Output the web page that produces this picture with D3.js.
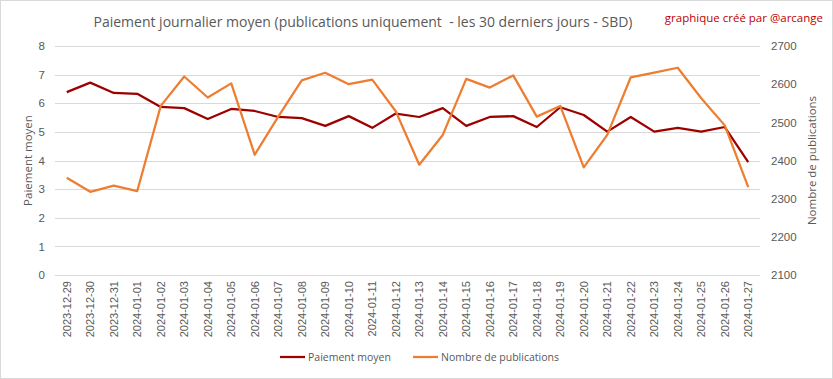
<!DOCTYPE html>
<html>
<head>
<meta charset="utf-8">
<script src="https://cdn.jsdelivr.net/npm/d3@7"></script>
<style>
  body { margin: 0; background: #fff; }
  svg { display: block; font-family: "Open Sans", sans-serif; }
</style>
</head>
<body>
<div id="canvas"></div>
<script>
const dates = [
  "2023-12-29", "2023-12-30", "2023-12-31", "2024-01-01", "2024-01-02", "2024-01-03",
  "2024-01-04", "2024-01-05", "2024-01-06", "2024-01-07", "2024-01-08", "2024-01-09",
  "2024-01-10", "2024-01-11", "2024-01-12", "2024-01-13", "2024-01-14", "2024-01-15",
  "2024-01-16", "2024-01-17", "2024-01-18", "2024-01-19", "2024-01-20", "2024-01-21",
  "2024-01-22", "2024-01-23", "2024-01-24", "2024-01-25", "2024-01-26", "2024-01-27"
];
const paiement = [
  6.39, 6.72, 6.36, 6.33, 5.87, 5.83, 5.45, 5.80, 5.73, 5.52,
  5.48, 5.21, 5.55, 5.14, 5.64, 5.52, 5.83, 5.21, 5.52, 5.55,
  5.17, 5.86, 5.59, 5.01, 5.52, 5.01, 5.14, 5.01, 5.17, 3.94
];
const publications = [
  2355, 2318, 2334, 2320, 2543, 2620, 2565, 2602, 2415, 2515,
  2610, 2630, 2600, 2612, 2529, 2389, 2467, 2614, 2591, 2623,
  2515, 2543, 2382, 2467, 2618, 2630, 2643, 2563, 2492, 2330
];
const leftTicks = [0, 1, 2, 3, 4, 5, 6, 7, 8];
const rightTicks = [2100, 2200, 2300, 2400, 2500, 2600, 2700];

const width = 833, height = 379;
const margin = { top: 46, left: 55, bottom: 104, right: 73 };
const iwidth = width - margin.left - margin.right;
const iheight = height - margin.top - margin.bottom;
const textColor = "#595959";

const svg = d3.select("#canvas").append("svg")
  .attr("width", width)
  .attr("height", height);

svg.append("rect")
  .attr("x", 0.5).attr("y", 0.5)
  .attr("width", width - 1).attr("height", height - 1)
  .attr("fill", "#fff").attr("stroke", "#d9d9d9");

const g = svg.append("g")
  .attr("transform", `translate(${margin.left},${margin.top})`);

const x = d3.scaleBand().domain(dates).range([0, iwidth]);
const y = d3.scaleLinear().domain([0, 8]).range([iheight, 0]);
const y2 = d3.scaleLinear().domain([2100, 2700]).range([iheight, 0]);
const cx = d => x(d) + x.bandwidth() / 2;

// grid
g.append("g")
  .selectAll("line")
  .data(leftTicks)
  .join("line")
  .attr("x1", 0).attr("x2", iwidth)
  .attr("y1", d => Math.round(y(d)) + 0.5)
  .attr("y2", d => Math.round(y(d)) + 0.5)
  .attr("stroke", "#d9d9d9");

// left axis
const yAxis = g.append("g")
  .call(d3.axisLeft(y).tickValues(leftTicks).tickSize(0).tickPadding(10));
yAxis.select(".domain").remove();
yAxis.selectAll("text").attr("fill", textColor).style("font-size", "11.5px");

// right axis
const yAxis2 = g.append("g")
  .attr("transform", `translate(${iwidth},0)`)
  .call(d3.axisRight(y2).tickValues(rightTicks).tickFormat(d3.format("d")).tickSize(0).tickPadding(11));
yAxis2.select(".domain").remove();
yAxis2.selectAll("text").attr("fill", textColor).style("font-size", "11.5px");

// x axis
const xAxis = g.append("g")
  .attr("transform", `translate(0,${iheight})`)
  .call(d3.axisBottom(x).tickSize(0));
xAxis.select(".domain").remove();
xAxis.selectAll("text")
  .attr("fill", textColor)
  .style("font-size", "11px")
  .attr("transform", "rotate(-90)")
  .attr("x", -6)
  .attr("y", 0)
  .attr("dy", "0.35em")
  .attr("text-anchor", "end");

// lines
const line1 = d3.line().x((d, i) => cx(dates[i])).y(d => y(d));
const line2 = d3.line().x((d, i) => cx(dates[i])).y(d => y2(d));

g.append("path")
  .datum(paiement)
  .attr("d", line1)
  .attr("fill", "none")
  .attr("stroke", "#9e0000")
  .attr("stroke-width", 2.25)
  .attr("stroke-linejoin", "round");

g.append("path")
  .datum(publications)
  .attr("d", line2)
  .attr("fill", "none")
  .attr("stroke", "#ed7d31")
  .attr("stroke-width", 2.25)
  .attr("stroke-linejoin", "round");

// titles
svg.append("text")
  .attr("x", 363).attr("y", 27)
  .attr("text-anchor", "middle")
  .attr("fill", textColor)
  .style("font-size", "14px")
  .style("white-space", "pre")
  .text("Paiement journalier moyen (publications uniquement  - les 30 derniers jours - SBD)");

svg.append("text")
  .attr("x", 823).attr("y", 22)
  .attr("text-anchor", "end")
  .attr("fill", "#c00000")
  .style("font-size", "11.5px")
  .text("graphique créé par @arcange");

svg.append("text")
  .attr("transform", `translate(32,${margin.top + iheight / 2}) rotate(-90)`)
  .attr("text-anchor", "middle")
  .attr("fill", textColor)
  .style("font-size", "11.5px")
  .text("Paiement moyen");

svg.append("text")
  .attr("transform", `translate(816,${margin.top + iheight / 2}) rotate(-90)`)
  .attr("text-anchor", "middle")
  .attr("fill", textColor)
  .style("font-size", "11.5px")
  .text("Nombre de publications");

// legend
const legend = [
  { name: "Paiement moyen", color: "#9e0000", x: 280 },
  { name: "Nombre de publications", color: "#ed7d31", x: 413 }
];
const lg = svg.append("g").attr("transform", "translate(0,357)");
legend.forEach(l => {
  lg.append("line")
    .attr("x1", l.x).attr("x2", l.x + 25)
    .attr("y1", 0).attr("y2", 0)
    .attr("stroke", l.color).attr("stroke-width", 2.25);
  lg.append("text")
    .attr("x", l.x + 28).attr("y", 0).attr("dy", "0.35em")
    .attr("fill", textColor)
    .style("font-size", "10.5px")
    .text(l.name);
});
</script>
</body>
</html>
